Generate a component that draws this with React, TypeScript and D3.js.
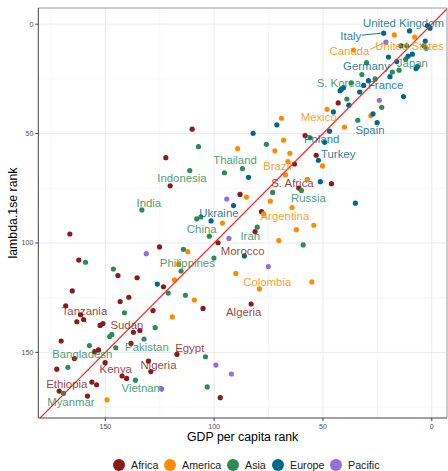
import React from 'react';
import * as d3 from 'd3';

const W = 448;
const H = 471;

const regions = ['Africa', 'America', 'Asia', 'Europe', 'Pacific'];
const regionColors: Record<string, string> = {
  Africa: '#8B1A1A',
  America: '#FF8C00',
  Asia: '#2E8B57',
  Europe: '#00688B',
  Pacific: '#9370DB',
};

// [GDP per capita rank, lambda.1se rank]
const europe: [number, number][] = [
  [2, 0.6], [0.8, 1.8], [22.1, 4.1], [10.2, 3.1], [14.1, 9.9], [3, 7.7], [8.9, 13.7], [10.9, 14.6],
  [19.9, 15], [16.1, 17.1], [6.6, 19.4], [7.2, 20.3], [19.2, 24], [29.1, 25.8], [31.3, 28], [40.6, 29],
  [41.5, 29.7], [42.1, 30.4], [33.1, 31], [13, 33.1], [38.1, 37], [45.2, 40.1], [27, 41], [25.1, 45],
  [71.2, 46], [82.1, 49.9], [47, 48.9], [49.2, 54], [52.1, 62.2], [84.2, 70], [51.2, 72], [35.1, 81.8],
  [91.1, 82.9], [101.4, 89.9], [86.1, 105.9], [126.1, 118.8],
];
const asia: [number, number][] = [
  [11.5, 9.9], [3.7, 9.9], [2.6, 11], [12, 16], [30, 17.6], [18.1, 21.9], [15, 21], [32.1, 23],
  [26, 25], [37, 26.8], [39, 34.2], [23, 38], [34, 43.9], [55.9, 51.9], [76, 54.9], [107.2, 56],
  [111.2, 66.9], [95.3, 67.9], [87, 66], [59.9, 76], [73.1, 76.9], [133.2, 84.9], [108, 89], [106.1, 88.1],
  [102.2, 96.9], [80.2, 92.8], [59.1, 100.9], [100.1, 106.9], [159.1, 108.8], [114.1, 102.9], [146.3, 111.9], [115.2, 112.8],
  [121.1, 122.9], [113.2, 123.9], [141.2, 131.9], [127.1, 138.7], [148, 142.8], [147, 141.8], [132.2, 143.9], [157.3, 146.9],
  [145.2, 147.9], [104, 152], [167.2, 156.8], [136.2, 162.7], [103.2, 165.8], [169.2, 168.7],
];
const america: [number, number][] = [
  [17.2, 4.9], [7.9, 5.9], [36, 11.8], [48.1, 38.9], [28, 41.9], [69.1, 43], [40.1, 47], [68.1, 53],
  [89.2, 56.9], [72.1, 57.9], [65.2, 59], [66.1, 62.8], [50.2, 64.8], [67.2, 68.9], [57.2, 70.9], [85.2, 79],
  [74.2, 80.9], [64.2, 83.8], [77.2, 86.7], [96.2, 90.9], [54.2, 91.9], [62.2, 93.9], [70.3, 98.9], [112.1, 104],
  [116.3, 109.7], [90, 113.9], [118.2, 116.9], [55.1, 117.8], [79.2, 121], [109.1, 126.1], [119.2, 133.8], [149.2, 171.7],
];
const pacific: [number, number][] = [
  [21.1, 8.2], [24.1, 34.8], [94.2, 79.9], [93.2, 97.9], [131.2, 104.9], [75.1, 110.8], [99.2, 155.8], [124.1, 166.7],
  [92.1, 159.9],
];
const africa: [number, number][] = [
  [43, 36], [110.1, 48], [58.2, 50.9], [122.2, 61], [53.1, 59.9], [63.1, 63.9], [120.2, 73.9], [61.1, 74.9],
  [46.1, 72.9], [88.1, 77.8], [78.2, 85.7], [81.2, 94.8], [98.2, 99.9], [166.3, 95.9], [125.1, 101.8], [162.2, 107.8],
  [144.2, 114.9], [135.4, 115.9], [123.3, 120], [165.2, 121.9], [139.2, 124.8], [143.2, 126.8], [105.1, 129.9], [168.2, 128.7],
  [128.1, 130.9], [83, 127.9], [161.4, 132.8], [160, 135], [163.1, 136], [152.4, 137.7], [151.1, 136.8], [137.1, 140.8],
  [134.1, 140], [170.3, 144.8], [138.2, 145.9], [155, 149.7], [153.1, 148.9], [164.2, 152.8], [150.1, 154.7], [117.1, 150.9],
  [130.2, 154], [172.3, 157.7], [129.1, 158.8], [142.3, 160.8], [140.2, 161.9], [156.2, 163.6], [154, 164.8], [171.2, 167.7],
  [158.2, 170], [97.2, 170.7],
];

const seriesByRegion: Record<string, [number, number][]> = {
  Africa: africa, America: america, Asia: asia, Europe: europe, Pacific: pacific,
};

const labelNames = [
  'United Kingdom', 'Italy', 'Canada', 'United States', 'Germany', 'Japan', 'S. Korea', 'France',
  'Mexico', 'Spain', 'Poland', 'Turkey', 'Thailand', 'Brazil', 'Indonesia', 'S. Africa',
  'Russia', 'India', 'Ukraine', 'Argentina', 'China', 'Iran', 'Morocco', 'Philippines',
  'Colombia', 'Algeria', 'Tanzania', 'Sudan', 'Bangladesh', 'Pakistan', 'Egypt', 'Kenya',
  'Nigeria', 'Ethiopia', 'Vietnam', 'Myanmar',
];
const labelRegions = [
  'Europe', 'Europe', 'America', 'America', 'Europe', 'Asia', 'Asia', 'Europe',
  'America', 'Europe', 'Europe', 'Europe', 'Asia', 'America', 'Asia', 'Africa',
  'Asia', 'Asia', 'Europe', 'America', 'Asia', 'Asia', 'Africa', 'Asia',
  'America', 'Africa', 'Africa', 'Africa', 'Asia', 'Asia', 'Africa', 'Africa',
  'Africa', 'Africa', 'Asia', 'Asia',
];
const labelX = [
  13, 37.2, 37.8, 10.2, 30, 8.9, 42.7, 21.2,
  51.9, 28.4, 50.6, 43, 90.4, 70.9, 114.8, 64,
  56.7, 130, 97.8, 67.5, 105.7, 83.4, 86.9, 112.3,
  75.6, 86.4, 159.6, 140.1, 160.6, 130.9, 111.2, 145.2,
  125.6, 167.7, 133, 165.8,
];
const labelY = [
  -0.7, 5.3, 12.2, 9.9, 19.1, 17.8, 26.7, 27.9,
  42.5, 48.3, 52.4, 59.3, 62, 64.8, 70.4, 72.4,
  79.6, 81.8, 86.4, 87.5, 93.7, 96.7, 103.5, 109.3,
  117.7, 131.4, 131, 137.5, 150.9, 147.4, 148.1, 157.6,
  155.5, 164.2, 166.2, 172.6,
];
// leader segments: [x1, y1, x2, y2, region]
const segments: [number, number, number, number, string][] = [
  [32.2, 5.0, 23.3, 4.1, 'Europe'],
  [28.4, 11.5, 22.3, 8.7, 'America'],
  [160.5, 133.6, 158.7, 136.4, 'Africa'],
];

const xTicks = [150, 100, 50, 0];
const yTicks = [0, 50, 100, 150];
const xMinor = [175, 125, 75, 25];
const yMinor = [25, 75, 125, 175];

const FONT = "'Liberation Sans', Arial, Helvetica, sans-serif";

export default function App() {
  const left = 38.3, right = 447, top = 8, bottom = 418;
  const x = d3.scaleLinear().domain([180.8, -7]).range([left, right]);
  const y = d3.scaleLinear().domain([-7.4, 180]).range([top, bottom]);

  const lineDom = [-10, 190];
  const legendItems = [
    { r: 'Africa', cx: 119 },
    { r: 'America', cx: 170 },
    { r: 'Asia', cx: 233 },
    { r: 'Europe', cx: 278 },
    { r: 'Pacific', cx: 336 },
  ];

  return (
    <svg width={W} height={H} style={{ position: 'absolute', left: 0, top: 0, background: '#fff' }} fontFamily={FONT}>
      <defs>
        <clipPath id="panel">
          <rect x={left} y={top} width={right - left} height={bottom - top} />
        </clipPath>
      </defs>
      <rect x={0} y={0} width={W} height={H} fill="#fff" />
      {/* grid */}
      {xMinor.map((v) => (
        <line key={'xm' + v} x1={x(v)} x2={x(v)} y1={top} y2={bottom} stroke="#f0f0f0" strokeWidth={0.6} />
      ))}
      {yMinor.map((v) => (
        <line key={'ym' + v} x1={left} x2={right} y1={y(v)} y2={y(v)} stroke="#f0f0f0" strokeWidth={0.6} />
      ))}
      {xTicks.map((v) => (
        <line key={'xg' + v} x1={x(v)} x2={x(v)} y1={top} y2={bottom} stroke="#ebebeb" strokeWidth={1} />
      ))}
      {yTicks.map((v) => (
        <line key={'yg' + v} x1={left} x2={right} y1={y(v)} y2={y(v)} stroke="#ebebeb" strokeWidth={1} />
      ))}
      <g clipPath="url(#panel)">
        {regions.map((r) =>
          seriesByRegion[r].map((d, i) => (
            <circle key={r + i} cx={x(d[0])} cy={y(d[1])} r={2.6} fill={regionColors[r]} />
          ))
        )}
        <line x1={x(lineDom[0])} y1={y(lineDom[0])} x2={x(lineDom[1])} y2={y(lineDom[1])} stroke="#ff1f1f" strokeWidth={1.15} />
        {segments.map((s, i) => (
          <line key={'s' + i} x1={x(s[0])} y1={y(s[1])} x2={x(s[2])} y2={y(s[3])} stroke={regionColors[s[4]]} strokeWidth={0.9} />
        ))}
        {labelNames.map((n, i) => (
          <text key={n} x={x(labelX[i])} y={y(labelY[i])} dy="0.36em" textAnchor="middle" fontSize={11.4}
            fill={regionColors[labelRegions[i]]} fillOpacity={0.85}>{n}</text>
        ))}
      </g>
      {/* border */}
      <line x1={left} x2={right} y1={top} y2={top} stroke="#9a9a9a" strokeWidth={1} />
      <line x1={right} x2={right} y1={top} y2={bottom} stroke="#9a9a9a" strokeWidth={1} />
      <line x1={left} x2={left} y1={top} y2={bottom} stroke="#444" strokeWidth={1} />
      <line x1={left} x2={right} y1={bottom} y2={bottom} stroke="#444" strokeWidth={1} />
      {/* axes ticks */}
      {xTicks.map((v) => (
        <g key={'xt' + v}>
          <line x1={x(v)} x2={x(v)} y1={bottom} y2={bottom + 3} stroke="#444" />
          <text x={x(v)} y={bottom + 9} dy="0.35em" textAnchor="middle" fontSize={7} fill="#4d4d4d">{v}</text>
        </g>
      ))}
      {yTicks.map((v) => (
        <g key={'yt' + v}>
          <line x1={left - 3} x2={left} y1={y(v)} y2={y(v)} stroke="#444" />
          <text x={left - 5} y={y(v)} dy="0.35em" textAnchor="end" fontSize={7} fill="#4d4d4d">{v}</text>
        </g>
      ))}
      <text x={(left + right) / 2} y={440.5} textAnchor="middle" fontSize={12.3} fill="#000">GDP per capita rank</text>
      <text transform={`translate(16.7, ${(top + bottom) / 2}) rotate(-90)`} textAnchor="middle" fontSize={12.3} fill="#000">lambda.1se rank</text>
      {legendItems.map((it) => (
        <g key={it.r}>
          <circle cx={it.cx} cy={465} r={6} fill={regionColors[it.r]} />
          <text x={it.cx + 12} y={465} dy="0.36em" fontSize={10.7} fill="#1a1a1a">{it.r}</text>
        </g>
      ))}
    </svg>
  );
}
